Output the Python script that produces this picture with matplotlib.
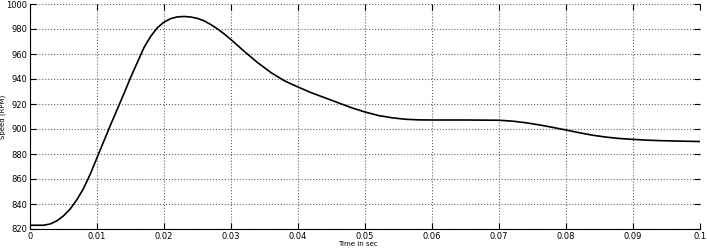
import matplotlib
matplotlib.use('Agg')
import matplotlib.pyplot as plt

# speed response
t = [0, 0.002, 0.003, 0.004, 0.005, 0.006, 0.007, 0.008, 0.009, 0.01, 0.011, 0.012,
     0.013, 0.014, 0.015, 0.016, 0.017, 0.018, 0.019, 0.02, 0.021, 0.022, 0.023,
     0.024, 0.025, 0.026, 0.027, 0.028, 0.029, 0.03, 0.032, 0.034, 0.036, 0.038,
     0.04, 0.042, 0.044, 0.046, 0.048, 0.05, 0.052, 0.054, 0.056, 0.058, 0.06,
     0.065, 0.07, 0.072, 0.074, 0.076, 0.078, 0.08, 0.082, 0.084, 0.086, 0.088,
     0.09, 0.092, 0.094, 0.097, 0.1]
speed = [823, 823, 824, 826.5, 830.5, 836, 843.5, 852.5, 864, 877, 890, 903,
         915.5, 928, 941, 953, 965, 974, 981, 985.5, 988.3, 989.7, 990,
         989.6, 988.5, 986.5, 983.5, 980, 976, 971.5, 962, 953, 945, 938.5,
         933.6, 929, 925, 921, 917, 913.6, 910.8, 909, 907.8, 907.3, 907.2,
         907.2, 907, 906.3, 905, 903.3, 901.3, 899.2, 897, 895, 893.5, 892.4,
         891.7, 891.1, 890.7, 890.3, 890]

xticks = [0, 0.01, 0.02, 0.03, 0.04, 0.05, 0.06, 0.07, 0.08, 0.09, 0.1]
xlabels = ['0', '0.01', '0.02', '0.03', '0.04', '0.05', '0.06', '0.07', '0.08', '0.09', '0.1']
yticks = list(range(820, 1001, 20))

fig = plt.figure(figsize=(7.07, 2.48), dpi=100)
ax = fig.add_axes([30/707, 19/248, 670/707, 225/248])
ax.plot(t, speed, color='black', lw=1.2)

ax.set_xlim(0, 0.1)
ax.set_ylim(820, 1000)
ax.set_xticks(xticks)
ax.set_xticklabels(xlabels)
ax.set_yticks(yticks)
ax.tick_params(direction='in', length=4, labelsize=6, top=True, right=True, pad=2)
ax.grid(True, linestyle=':', color='#666666', lw=0.8)
ax.spines['top'].set_visible(False)
ax.spines['right'].set_visible(False)
ax.set_xlabel('Time in sec', fontsize=5)
ax.set_ylabel('Speed (RPM)', fontsize=5)
ax.xaxis.set_label_coords(0.49, -0.055)
ax.yaxis.set_label_coords(-0.036, 0.5)

plt.savefig('out.png', dpi=100)
